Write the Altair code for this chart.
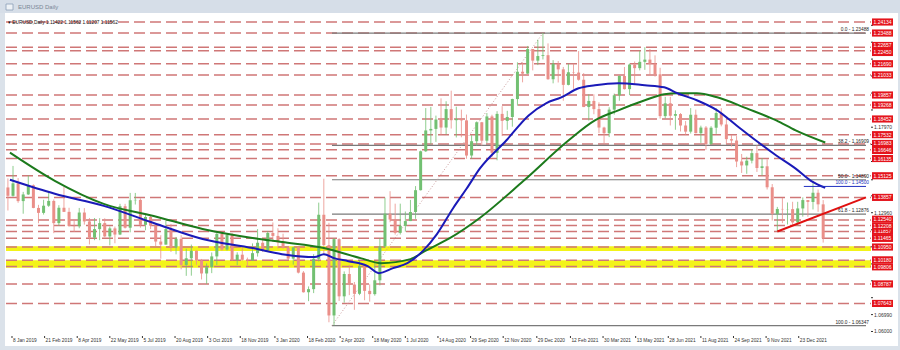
import altair as alt
import pandas as pd
import numpy as np

# ---------------- data ----------------
first_open = 1.1444
close_2019 = [1.1395,1.1468,1.1364,1.1403,1.1457,1.1324,1.1295,1.1337,1.1365,1.1235,
              1.1325,1.1301,1.1218,1.1217,1.1297,1.1245,1.1150,1.1200,1.1235,1.1157,
              1.1204,1.1168,1.1334,1.1208,1.1369,1.1371,1.1225,1.1271,1.1220,1.1127,
              1.1109,1.1200,1.1093,1.1143,1.0990,1.1029,1.1073,1.1016,1.0940,1.0977,
              1.1040,1.1172,1.1080,1.1165,1.1019,1.1050,1.1020,1.1017,1.1059,1.1120,
              1.1077,1.1177]
high_2019 = [1.1497,1.1570,1.1499,1.1418,1.1514,1.1462,1.1342,1.1372,1.1420,1.1374,
             1.1340,1.1448,1.1325,1.1255,1.1324,1.1323,1.1265,1.1265,1.1264,1.1263,
             1.1215,1.1215,1.1348,1.1348,1.1412,1.1412,1.1381,1.1286,1.1283,1.1227,
             1.1164,1.1250,1.1230,1.1154,1.1164,1.1085,1.1109,1.1075,1.1025,1.0999,
             1.1063,1.1179,1.1180,1.1175,1.1176,1.1064,1.1097,1.1033,1.1116,1.1200,
             1.1147,1.1189]
low_2019 = [1.1309,1.1390,1.1354,1.1290,1.1400,1.1322,1.1234,1.1285,1.1330,1.1176,
            1.1220,1.1300,1.1212,1.1183,1.1205,1.1226,1.1110,1.1135,1.1135,1.1152,
            1.1105,1.1117,1.1165,1.1203,1.1181,1.1344,1.1208,1.1193,1.1200,1.1101,
            1.1027,1.1109,1.1066,1.1052,1.0964,1.0926,1.0927,1.0991,1.0905,1.0879,
            1.0942,1.0990,1.1073,1.1074,1.1014,1.0989,1.1014,1.0981,1.1015,1.1039,
            1.1066,1.1067]
close_2020 = [1.1160,1.1121,1.1090,1.1027,1.1093,1.0945,1.0830,1.0848,1.1026,
              1.1284,1.1106,1.0694,1.1141,1.0806,1.0937,1.0875,1.0821,
              1.0982,1.0838,1.0819,1.0900,1.1098,1.1290,1.1256,1.1178,1.1219,
              1.1247,1.1300,1.1428,1.1656,1.1778,1.1787,1.1842,1.1795,1.1903,
              1.1838,1.1845,1.1837,1.1631,1.1715,1.1826,1.1718,1.1860,1.1647,
              1.1875,1.1834,1.1857,1.1962,1.2122,1.2111,1.2255,1.2187]
high_2020 = [1.1239,1.1205,1.1173,1.1101,1.1097,1.1095,1.0954,1.0864,1.1053,
             1.1355,1.1495,1.1237,1.1147,1.1147,1.0952,1.0990,1.0890,
             1.1019,1.0981,1.0876,1.1008,1.1147,1.1384,1.1422,1.1349,1.1349,
             1.1303,1.1371,1.1452,1.1660,1.1909,1.1916,1.1865,1.1966,1.1949,
             1.2011,1.1917,1.1900,1.1871,1.1750,1.1831,1.1828,1.1880,1.1870,
             1.1891,1.1920,1.1893,1.1964,1.2177,1.2177,1.2273,1.2251]
low_2020 = [1.1125,1.1086,1.1085,1.1018,1.0992,1.0940,1.0828,1.0778,1.0825,
            1.1010,1.1055,1.0654,1.0636,1.0779,1.0769,1.0813,1.0727,
            1.0813,1.0783,1.0775,1.0810,1.0870,1.1090,1.1240,1.1168,1.1168,
            1.1185,1.1253,1.1260,1.1426,1.1652,1.1697,1.1711,1.1753,1.1755,
            1.1789,1.1737,1.1738,1.1612,1.1612,1.1688,1.1689,1.1704,1.1622,
            1.1603,1.1745,1.1782,1.1800,1.1923,1.2060,1.2109,1.2130]
close_2021 = [1.2214,1.2219,1.2078,1.2169,1.2136,1.2045,1.2119,1.2117,1.2075,
              1.1915,1.1951,1.1903,1.1795,1.1762,1.1900,1.1984,1.2097,1.2020,
              1.2164,1.2143,1.2180,1.2193,1.2168,1.2107,1.1862,1.1937,
              1.1864,1.1874,1.1807,1.1771,1.1870,1.1762,1.1795,1.1698,1.1794,
              1.1880,1.1813,1.1727,1.1719,1.1596,1.1573,1.1601,1.1645,1.1558,
              1.1568,1.1445,1.1288,1.1318,1.1316,1.1317,1.1239,1.1321,1.1370]
high_2021 = [1.2310,1.2349,1.2288,1.2190,1.2185,1.2150,1.2169,1.2169,1.2243,
             1.2114,1.1990,1.1990,1.1943,1.1800,1.1914,1.1994,1.2100,1.2150,
             1.2170,1.2182,1.2245,1.2266,1.2255,1.2218,1.2145,1.1975,
             1.1975,1.1896,1.1880,1.1833,1.1909,1.1900,1.1806,1.1804,1.1803,
             1.1909,1.1909,1.1849,1.1752,1.1745,1.1640,1.1624,1.1668,1.1692,
             1.1616,1.1609,1.1464,1.1330,1.1383,1.1356,1.1360,1.1360,1.1386]
low_2021 = [1.2161,1.2194,1.2075,1.2054,1.2059,1.1952,1.2042,1.2022,1.2070,
            1.1915,1.1836,1.1873,1.1762,1.1704,1.1739,1.1871,1.1952,1.2018,
            1.1985,1.2051,1.2130,1.2133,1.2104,1.2093,1.1847,1.1848,
            1.1807,1.1782,1.1772,1.1752,1.1760,1.1761,1.1705,1.1664,1.1694,
            1.1758,1.1802,1.1700,1.1684,1.1563,1.1529,1.1524,1.1585,1.1535,
            1.1513,1.1432,1.1250,1.1186,1.1235,1.1227,1.1222,1.1220,1.1273]
close_2022 = [1.1359,1.1413,1.1345,1.1146]
high_2022 = [1.1369,1.1483,1.1432,1.1370]
low_2022 = [1.1272,1.1315,1.1301,1.1121]

# moving averages (trading-day index from 8 Jan 2019, price)
ma100_bar = [-2,42,90,139,187,236,265,297,306,316,330,349,360,374,388,403,417,433,446,459,
             485,507,524,539,556,572,595,621,640,653,672,692,711,730,750,769,784,798]
ma100_val = [1.1489,1.1407,1.1336,1.1236,1.1142,1.1089,1.1053,1.1036,1.1053,1.1030,1.1012,
             1.0983,1.0942,1.0971,1.1000,1.1071,1.1171,1.1324,1.1436,1.1554,1.1719,1.1866,
             1.1937,1.1972,1.2025,1.2043,1.2055,1.2043,1.2031,1.1996,1.1955,1.1896,1.1807,
             1.1719,1.1631,1.1554,1.1483,1.1442]
ma200_bar = [-2,42,90,139,187,236,265,306,342,362,391,405,430,459,502,546,572,595,621,640,
             653,672,692,721,750,769,798]
ma200_val = [1.1648,1.1483,1.1348,1.1277,1.1201,1.1148,1.1124,1.1089,1.1030,1.1000,1.1024,
             1.1071,1.1148,1.1265,1.1483,1.1719,1.1837,1.1896,1.1955,1.1990,1.1996,1.1996,
             1.1972,1.1907,1.1837,1.1778,1.1707]

level_values = [1.24134,1.23488,1.22657,1.22450,1.21690,1.21033,1.19857,1.19268,1.18452,
                1.17532,1.16983,1.16646,1.16135,1.15125,1.13857,1.12540,1.12208,1.11857,
                1.11465,1.10950,1.10180,1.09806,1.08787,1.07643]
axis_values = [1.06000,1.06990,1.07980,1.08970,1.09960,1.10960,1.11960,1.12960,1.13950,
               1.14890,1.15960,1.16960,1.17970,1.18980,1.19970,1.20970,1.21960,1.22950,
               1.23940]
band_low = [1.1072, 1.0973]
band_high = [1.1100, 1.1017]

fib_names = ["0.0", "38.2", "50.0", "61.8", "100.0"]
fib_values = [1.23488, 1.16909, 1.14890, 1.12876, 1.06347]
fib_low_date, fib_high_date = "2020-03-23", "2021-01-06"
trend_dates = ["2021-11-24"]
trend_start, trend_end = 1.11857, 1.13857
blue_fib_label, blue_fib_value, blue_fib_date = "100.0 - 1.14500", 1.14500, "2021-12-30"

date_labels = ["8 Jan 2019","21 Feb 2019","8 Apr 2019","22 May 2019","5 Jul 2019",
               "20 Aug 2019","3 Oct 2019","18 Nov 2019","3 Jan 2020","18 Feb 2020",
               "2 Apr 2020","18 May 2020","1 Jul 2020","14 Aug 2020","29 Sep 2020",
               "12 Nov 2020","29 Dec 2020","12 Feb 2021","30 Mar 2021","13 May 2021",
               "28 Jun 2021","11 Aug 2021","24 Sep 2021","9 Nov 2021","23 Dec 2021"]
header_text = "EURUSD,Daily  1.11422 1.11562 1.11207 1.11562"
window_title = "EURUSD Daily"

# ---------------- layout ----------------
W, H = 865, 317
PXB = 1.031
XMIN, XMAX = -1 / PXB, (W - 1) / PXB
YMIN, YMAX = 1.05736, 1.2431
PX_PER_PRICE = H / (YMAX - YMIN)
ORIGIN = np.datetime64("2019-01-08")
FONT = "Liberation Sans"
BOX_H = 7.0

def bar_of(d):
    return int(np.busday_count(ORIGIN, np.datetime64(pd.Timestamp(d).date())))

xs = alt.Scale(domain=[XMIN, XMAX], nice=False, zero=False)
ys = alt.Scale(domain=[YMIN, YMAX], nice=False, zero=False)

closes = close_2019 + close_2020 + close_2021 + close_2022
highs = high_2019 + high_2020 + high_2021 + high_2022
lows = low_2019 + low_2020 + low_2021 + low_2022
opens = [first_open] + closes[:-1]
fridays = pd.date_range("2019-01-04", periods=len(closes), freq="W-FRI")
mids = (fridays - pd.Timedelta(days=2)).values.astype("datetime64[D]")
cdf = pd.DataFrame({"bar": np.busday_count(ORIGIN, mids), "open": opens, "close": closes,
                    "high": np.maximum(np.maximum(highs, opens), closes),
                    "low": np.minimum(np.minimum(lows, opens), closes)})
cdf["dir"] = np.where(cdf["close"] >= cdf["open"], "up", "down")

grid_bars = list((np.arange(19, W, 22.39) - 1) / PXB)

# white working area (plot + axis labels)
bg = alt.Chart(pd.DataFrame({"a": [0]})).mark_rect(color="white", clip=False).encode(
    x=alt.value(-1), x2=alt.value(W + 27), y=alt.value(-6), y2=alt.value(H + 10))

titlebar = alt.Chart(pd.DataFrame({"a": [0]})).mark_rect(color="#d6dee8", clip=False).encode(
    x=alt.value(-6), x2=alt.value(W + 29), y=alt.value(-19), y2=alt.value(-6))
title_txt = alt.Chart(pd.DataFrame({"t": [window_title]})).mark_text(
    font=FONT, fontSize=6, color="#7a8796", align="left", baseline="middle", clip=False).encode(
    text="t:N", x=alt.value(12), y=alt.value(-12))
title_icon = alt.Chart(pd.DataFrame({"a": [0]})).mark_rect(
    fill="#eef2f6", stroke="#8aa0b8", strokeWidth=0.8, clip=False).encode(
    x=alt.value(0), x2=alt.value(7), y=alt.value(-15), y2=alt.value(-9))

grid = alt.Chart(pd.DataFrame({"bar": [XMIN, XMAX]})).mark_rule(opacity=0).encode(
    x=alt.X("bar:Q", scale=xs, axis=alt.Axis(values=grid_bars, grid=True, gridDash=[1, 2],
            gridColor="#555555", gridWidth=0.8, labels=False, ticks=False, domain=False, title=None)),
    y=alt.value(0))

bands = alt.Chart(pd.DataFrame({"lo": band_low, "hi": band_high})).mark_rect(
    color="#f2f200", opacity=0.9).encode(
    y=alt.Y("lo:Q", scale=ys, axis=None), y2="hi:Q", x=alt.value(0), x2=alt.value(W))

levels = alt.Chart(pd.DataFrame({"v": level_values})).mark_rule(
    color="#cf7777", strokeWidth=1.5, strokeDash=[11, 5]).encode(
    y=alt.Y("v:Q", scale=ys, axis=None), x=alt.value(0), x2=alt.value(W))

low_bar, high_bar = bar_of(fib_low_date), bar_of(fib_high_date)
fdf = pd.DataFrame({"name": fib_names, "v": fib_values, "x0": low_bar, "x1": XMAX})
fdf["label"] = fdf["name"] + " - " + fdf["v"].map(lambda v: f"{v:.5f}")
fib_lines = alt.Chart(fdf).mark_rule(color="#7a7a7a", strokeWidth=1.2).encode(
    x=alt.X("x0:Q", scale=xs, axis=None), x2="x1:Q", y=alt.Y("v:Q", scale=ys, axis=None))
fib_diag = alt.Chart(pd.DataFrame({"bar": [low_bar, high_bar], "v": [fib_values[-1], fib_values[0]]})).mark_line(
    color="#c99a9a", strokeWidth=1, strokeDash=[1, 2]).encode(
    x=alt.X("bar:Q", scale=xs, axis=None), y=alt.Y("v:Q", scale=ys, axis=None))
fib_text = alt.Chart(fdf).mark_text(font=FONT, fontSize=4.8, color="#222222", align="right",
                                    baseline="bottom", dy=-1).encode(
    text="label:N", x=alt.value(W - 2), y=alt.Y("v:Q", scale=ys, axis=None))

bdf = pd.DataFrame({"x0": [bar_of(blue_fib_date)], "x1": [XMAX], "v": [blue_fib_value], "t": [blue_fib_label]})
blue_line = alt.Chart(bdf).mark_rule(color="#2030c0", strokeWidth=1).encode(
    x=alt.X("x0:Q", scale=xs, axis=None), x2="x1:Q", y=alt.Y("v:Q", scale=ys, axis=None))
blue_text = alt.Chart(bdf).mark_text(font=FONT, fontSize=4.8, color="#2030c0", align="right",
                                     baseline="bottom", dy=-1).encode(
    text="t:N", x=alt.value(W - 2), y=alt.Y("v:Q", scale=ys, axis=None))

cscale = alt.Scale(domain=["up", "down"], range=["#72c072", "#ea8f89"])
wicks = alt.Chart(cdf).mark_rule(strokeWidth=0.8).encode(
    x=alt.X("bar:Q", scale=xs, axis=None), y=alt.Y("low:Q", scale=ys, axis=None), y2="high:Q",
    color=alt.Color("dir:N", scale=cscale, legend=None))
bodies = alt.Chart(cdf).mark_bar(size=3).encode(
    x=alt.X("bar:Q", scale=xs, axis=None), y=alt.Y("open:Q", scale=ys, axis=None), y2="close:Q",
    color=alt.Color("dir:N", scale=cscale, legend=None))

ma100 = alt.Chart(pd.DataFrame({"bar": ma100_bar, "v": ma100_val})).mark_line(
    color="#1a1ab8", strokeWidth=2, interpolate="monotone").encode(
    x=alt.X("bar:Q", scale=xs, axis=None), y=alt.Y("v:Q", scale=ys, axis=None))
ma200 = alt.Chart(pd.DataFrame({"bar": ma200_bar, "v": ma200_val})).mark_line(
    color="#1c7a1c", strokeWidth=2, interpolate="monotone").encode(
    x=alt.X("bar:Q", scale=xs, axis=None), y=alt.Y("v:Q", scale=ys, axis=None))

trend = alt.Chart(pd.DataFrame({"bar": [bar_of(trend_dates[0]), XMAX], "v": [trend_start, trend_end]})).mark_line(
    color="#e01010", strokeWidth=2).encode(
    x=alt.X("bar:Q", scale=xs, axis=None), y=alt.Y("v:Q", scale=ys, axis=None))

header = alt.Chart(pd.DataFrame({"t": ["\u25be " + header_text]})).mark_text(
    font=FONT, fontSize=4.8, color="#111111", align="left", baseline="middle").encode(
    text="t:N", x=alt.value(2), y=alt.value(4))

# plain price labels: only those not hidden under a red box
visible = [v for v in axis_values if min(abs(v - l) for l in level_values) * PX_PER_PRICE > 6.5]
adf = pd.DataFrame({"v": visible})
adf["t"] = adf["v"].map(lambda v: f"{v:.5f}")
ax_ticks = alt.Chart(pd.DataFrame({"v": axis_values})).mark_rule(color="#333333", clip=False).encode(
    y=alt.Y("v:Q", scale=ys, axis=None), x=alt.value(W), x2=alt.value(W + 2))
ax_text = alt.Chart(adf).mark_text(font=FONT, fontSize=5, color="#333333", align="left",
                                   baseline="middle", clip=False).encode(
    text="t:N", x=alt.value(W + 3), y=alt.Y("v:Q", scale=ys, axis=None))

# red price boxes; boxes closer than their height are nudged apart (label layout only)
ldf = pd.DataFrame({"v": sorted(level_values, reverse=True)})
ldf["t"] = ldf["v"].map(lambda v: f"{v:.5f}")
py = list((YMAX - ldf["v"]) * PX_PER_PRICE)
offs = [0.0] * len(py)
i = 0
while i < len(py) - 1:
    gap = py[i + 1] - py[i]
    if gap < BOX_H:
        push = (BOX_H - gap) / 2
        offs[i] -= push
        offs[i + 1] += push
        i += 2
    else:
        i += 1
ldf["off"] = [round(o, 2) for o in offs]
box_shape = "M-1,-0.34L1,-0.34L1,0.34L-1,0.34Z"
box_layers = []
for off, sub in ldf.groupby("off"):
    box_layers.append(alt.Chart(sub).mark_point(shape=box_shape, size=441, filled=True, opacity=1,
                                                color="#e4141c", clip=False, yOffset=off).encode(
        y=alt.Y("v:Q", scale=ys, axis=None), x=alt.value(W + 11.5)))
    box_layers.append(alt.Chart(sub).mark_text(font=FONT, fontSize=5, color="white", align="center",
                                               baseline="middle", clip=False, dy=off).encode(
        text="t:N", x=alt.value(W + 11.5), y=alt.Y("v:Q", scale=ys, axis=None)))

ddf = pd.DataFrame({"t": date_labels})
ddf["bar"] = [bar_of(pd.Timestamp(s)) for s in date_labels]
date_ticks = alt.Chart(ddf).mark_rule(color="#333333", clip=False).encode(
    x=alt.X("bar:Q", scale=xs, axis=None), y=alt.value(H), y2=alt.value(H + 2))
date_text = alt.Chart(ddf).mark_text(font=FONT, fontSize=4.8, color="#333333", align="left",
                                     baseline="middle", dx=1, clip=False).encode(
    text="t:N", x=alt.X("bar:Q", scale=xs, axis=None), y=alt.value(H + 5))

chart = alt.layer(
    bg, titlebar, title_icon, title_txt, grid, bands, levels, fib_lines, fib_diag,
    wicks, bodies, ma200, ma100, trend, blue_line, fib_text, blue_text, header,
    ax_ticks, ax_text, *box_layers, date_ticks, date_text
).properties(
    width=W, height=H,
    autosize=alt.AutoSizeParams(type="none"),
    padding={"left": 6, "top": 19, "right": 29, "bottom": 14},
    background="#dbe2ea",
).configure_view(stroke="#505050", strokeWidth=1)

chart.save("out.html", embed_options={"renderer": "svg", "actions": False})
